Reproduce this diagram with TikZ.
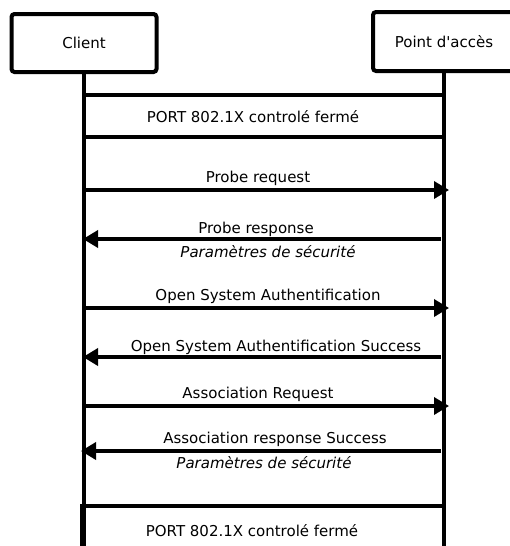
\documentclass[tikz,border=0pt]{standalone}
\usepackage{fontspec}
\setmainfont{DejaVu Sans}
\usetikzlibrary{arrows.meta, positioning}
\newcommand{\msgfont}{\fontsize{15}{17}\selectfont}

\begin{document}
\begin{tikzpicture}[
        x=1pt, y=-1pt,
        % Acteurs
        actor/.style={
                rectangle,
                rounded corners=3pt,
                draw,
                line width=4pt,
                minimum width=145pt,
                minimum height=58pt,
                font=\msgfont
            },
        % Lignes de vie
        lifeline/.style={
                line width=3.5pt
            },
        % Etat du port
        portbox/.style={
                rectangle,
                draw,
                line width=4pt,
                minimum width=360pt,
                minimum height=42pt,
                inner sep=0pt
            },
        % Messages
        msg/.style={
                -{Triangle[length=15pt,width=17pt]},
                line width=3.5pt
            },
        msglabel/.style={
                font=\msgfont,
                inner sep=0pt
            },
        note/.style={
                font=\msgfont\itshape,
                inner sep=0pt
            }
    ]

    \useasboundingbox (0,0) rectangle (510,546);
    \clip (0,0) rectangle (510,546);

    % Acteurs
    \node[actor] (client) at (84,43) {Client};
    \node[actor, minimum width=142pt, minimum height=59pt] (acces) at (444,41.5) {Point d\textquotesingle accès};

    \coordinate (client-bas) at (84,546);
    \coordinate (acces-bas) at (444,546);

    % Lignes de vie
    \draw[lifeline] (client.south) -- (client-bas);
    \draw[lifeline] (acces.south) -- (acces-bas);

    % Port ferme
    \node[portbox] (port1) at (264,116) {};
    \node[msglabel] (port1txt) at (253,117) {PORT 802.1X controlé fermé};

    % Probe request
    \coordinate (preq-c) at (84,190);
    \coordinate (preq-a) at (449,190);
    \draw[msg] (preq-c) -- (preq-a);
    \node[msglabel] (preqtxt) at (258,178) {Probe request};

    % Probe response
    \coordinate (pres-a) at (441,239);
    \coordinate (pres-c) at (83,239);
    \draw[msg] (pres-a) -- (pres-c);
    \node[msglabel] (prestxt) at (256,229) {Probe response};
    \node[note] (presnote) at (268,252) {Paramètres de sécurité};

    % Open System Authentification
    \coordinate (osa-c) at (84,308);
    \coordinate (osa-a) at (449,308);
    \draw[msg] (osa-c) -- (osa-a);
    \node[msglabel] (osatxt) at (268,296) {Open System Authentification};

    % Open System Authentification Success
    \coordinate (osas-a) at (441,357);
    \coordinate (osas-c) at (83,357);
    \draw[msg] (osas-a) -- (osas-c);
    \node[msglabel] (osastxt) at (276,347) {Open System Authentification Success};

    % Association Request
    \coordinate (areq-c) at (84,406);
    \coordinate (areq-a) at (449,406);
    \draw[msg] (areq-c) -- (areq-a);
    \node[msglabel] (areqtxt) at (258,394) {Association Request};

    % Association response Success
    \coordinate (ares-a) at (441,451);
    \coordinate (ares-c) at (81,451);
    \draw[msg] (ares-a) -- (ares-c);
    \node[msglabel] (arestxt) at (275,439) {Association response Success};
    \node[note] (aresnote) at (264,463) {Paramètres de sécurité};

    % Port ferme (fin)
    \node[portbox, minimum width=362pt, minimum height=60pt] (port2) at (263,536) {};
    \node[msglabel] (port2txt) at (252,531) {PORT 802.1X controlé fermé};

\end{tikzpicture}
\end{document}
